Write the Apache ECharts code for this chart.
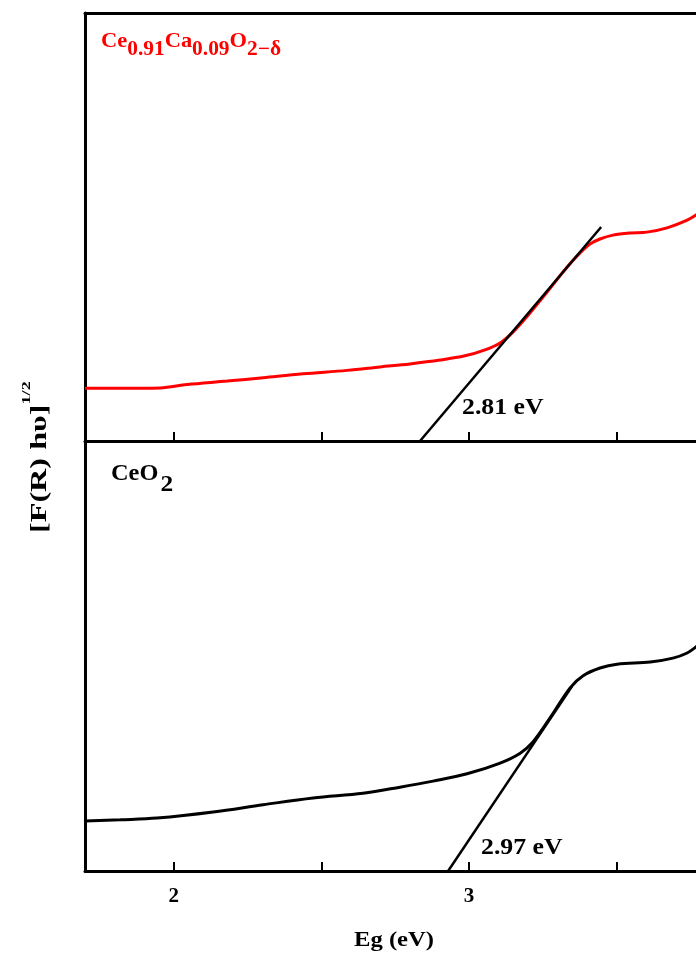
<!DOCTYPE html>
<html><head><meta charset="utf-8">
<script src="https://cdn.jsdelivr.net/npm/echarts@6/dist/echarts.min.js"></script>
<style>html,body{margin:0;padding:0;background:#fff}#c{width:696px;height:953px}</style>
</head><body><div id="c"></div>
<script>
// Top panel: Ce0.91Ca0.09O2-δ (red)
const topX = [1.70,1.819,1.954,2.046,2.181,2.303,2.438,2.587,2.699,2.800,2.902,2.986,3.054,3.105,3.149,3.206,3.264,3.318,3.365,3.409,3.443,3.487,3.545,3.602,3.670,3.738,3.768,3.80];
const topY = [12.3,12.3,12.4,13.2,14.0,14.8,15.7,16.5,17.3,18.0,18.9,19.9,21.3,22.9,25.5,29.9,34.8,39.5,43.2,46.0,47.2,48.1,48.6,48.8,49.8,51.6,52.8,54.5];
// Bottom panel: CeO2 (black)
const botX = [1.70,1.819,1.944,2.134,2.303,2.472,2.641,2.766,2.878,2.993,3.105,3.173,3.216,3.274,3.342,3.386,3.443,3.501,3.613,3.690,3.738,3.768,3.80];
const botY = [11.6,11.9,12.3,13.7,15.4,17.0,18.1,19.5,20.9,22.6,25.1,27.4,30.0,35.6,42.6,45.4,47.2,48.1,48.6,49.5,50.7,52.1,54.0];
// Tangent (Tauc) lines
const topFitX = [2.834, 3.447];
const topFitY = [0, 50.0];
const botFitX = [2.929, 3.349];
const botFitY = [0, 43.0];
// Axis ticks / labels
const tickValues = [2, 2.5, 3, 3.5];
const labelValues = [2, 3];
const topGap = '2.81 eV';
const botGap = '2.97 eV';
const xName = 'Eg (eV)';
const yName = '[F(R) hυ]';
const yNameSup = '1/2';

const zip = (xs, ys) => xs.map((x, i) => [x, ys[i]]);
const FONT = 'Liberation Serif';
const X_MIN = 1.7, X_MAX = 3.768;
const chart = echarts.init(document.getElementById('c'), null, {renderer: 'canvas'});

const xAx = (gi, showLabel) => ({
  type: 'value', gridIndex: gi, min: X_MIN, max: X_MAX, position: 'bottom',
  axisLine: {show: true, onZero: false, lineStyle: {color: '#000', width: 3}},
  axisTick: {show: true, inside: true, length: 9, customValues: tickValues, lineStyle: {color: '#000', width: 2}},
  axisLabel: {show: showLabel, customValues: labelValues, color: '#000', fontFamily: FONT, fontWeight: 'bold', fontSize: 21, margin: 15},
  splitLine: {show: false}
});
const yAx = (gi) => ({
  type: 'value', gridIndex: gi, min: 0, max: 100,
  axisLine: {show: true, onZero: false, lineStyle: {color: '#000', width: 3}},
  axisTick: {show: false}, axisLabel: {show: false}, splitLine: {show: false}
});

const option = {
  backgroundColor: '#fff',
  animation: false,
  grid: [
    {left: 85, top: 13, right: 0, height: 428},
    {left: 85, top: 441, right: 0, height: 430}
  ],
  xAxis: [
    xAx(0, false),
    xAx(1, true),
    {type: 'value', gridIndex: 0, min: X_MIN, max: X_MAX, position: 'top',
     axisLine: {show: true, onZero: false, lineStyle: {color: '#000', width: 3}},
     axisTick: {show: false}, axisLabel: {show: false}, splitLine: {show: false}}
  ],
  yAxis: [yAx(0), yAx(1)],
  series: [
    {type: 'line', xAxisIndex: 0, yAxisIndex: 0, data: zip(topX, topY), showSymbol: false, smooth: 0.35,
     lineStyle: {color: '#ff0000', width: 3}, z: 3},
    {type: 'line', xAxisIndex: 0, yAxisIndex: 0, data: zip(topFitX, topFitY), showSymbol: false,
     lineStyle: {color: '#000', width: 2.5}, z: 4},
    {type: 'line', xAxisIndex: 1, yAxisIndex: 1, data: zip(botX, botY), showSymbol: false, smooth: 0.35,
     lineStyle: {color: '#000', width: 3}, z: 3},
    {type: 'line', xAxisIndex: 1, yAxisIndex: 1, data: zip(botFitX, botFitY), showSymbol: false,
     lineStyle: {color: '#000', width: 2.5}, z: 4}
  ],
  graphic: [
    {type: 'text', x: 101, y: 31, scaleX: 1.07, z: 10, style: {
      text: '{a|Ce}{s|0.91}{a|Ca}{s|0.09}{a|O}{s|2−δ}',
      fill: '#ff0000', fontFamily: FONT, fontWeight: 'bold', fontSize: 21, align: 'left', verticalAlign: 'top',
      rich: {
        a: {fill: '#ff0000', fontFamily: FONT, fontWeight: 'bold', fontSize: 21, lineHeight: 22, verticalAlign: 'top'},
        s: {fill: '#ff0000', fontFamily: FONT, fontWeight: 'bold', fontSize: 20, lineHeight: 38, verticalAlign: 'middle'}
      }}},
    {type: 'text', x: 111, y: 463, scaleX: 1.06, z: 10, style: {
      text: '{a|Ce}{a|O}{s|2}',
      fill: '#000', fontFamily: FONT, fontWeight: 'bold', fontSize: 23, align: 'left', verticalAlign: 'top',
      rich: {
        a: {fill: '#000', fontFamily: FONT, fontWeight: 'bold', fontSize: 23, lineHeight: 24, verticalAlign: 'top'},
        s: {fill: '#000', fontFamily: FONT, fontWeight: 'bold', fontSize: 24, lineHeight: 44, verticalAlign: 'middle', padding: [0, 0, 0, 2]}
      }}},
    {type: 'text', x: 462, y: 408, scaleX: 1.12, z: 10, style: {
      text: topGap, fill: '#000', fontFamily: FONT, fontWeight: 'bold', fontSize: 23, align: 'left', verticalAlign: 'middle'}},
    {type: 'text', x: 481, y: 848.5, scaleX: 1.12, z: 10, style: {
      text: botGap, fill: '#000', fontFamily: FONT, fontWeight: 'bold', fontSize: 23, align: 'left', verticalAlign: 'middle'}},
    {type: 'text', x: 394, y: 940, scaleX: 1.12, z: 10, style: {
      text: xName, fill: '#000', fontFamily: FONT, fontWeight: 'bold', fontSize: 22, align: 'center', verticalAlign: 'middle'}},
    {type: 'text', x: 20, y: 533, rotation: Math.PI / 2, scaleX: 1.4, z: 10, style: {
      text: '{m|' + yName + '}{p|' + yNameSup + '}',
      fill: '#000', fontFamily: FONT, fontWeight: 'bold', fontSize: 23, align: 'left', verticalAlign: 'top',
      rich: {
        m: {fill: '#000', fontFamily: FONT, fontWeight: 'bold', fontSize: 23, lineHeight: 32, verticalAlign: 'bottom'},
        p: {fill: '#000', fontFamily: FONT, fontWeight: 'bold', fontSize: 13, lineHeight: 9, verticalAlign: 'top'}
      }}}
  ]
};
chart.setOption(option);
</script>
</body></html>
